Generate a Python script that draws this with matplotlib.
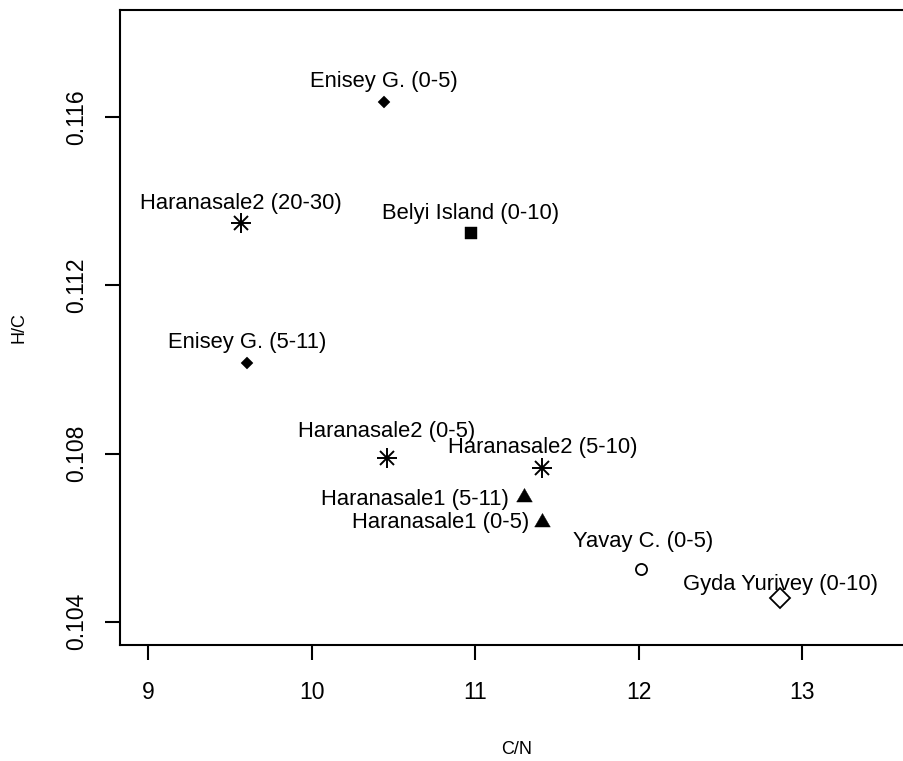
import matplotlib
matplotlib.use('Agg')
import matplotlib.pyplot as plt

plt.rcParams['font.family'] = ['Liberation Sans', 'DejaVu Sans']

# Sample data
sites = ['Enisey G. (0-5)', 'Haranasale2 (20-30)', 'Belyi Island (0-10)', 'Enisey G. (5-11)',
         'Haranasale2 (0-5)', 'Haranasale2 (5-10)', 'Haranasale1 (5-11)', 'Haranasale1 (0-5)',
         'Yavay C. (0-5)', 'Gyda Yurivey (0-10)']
cn = [10.444, 9.568, 10.973, 9.607, 10.461, 11.408, 11.298, 11.408, 12.013, 12.863]
hc = [0.11636, 0.11347, 0.11324, 0.11015, 0.10789, 0.10765, 0.10696, 0.10637, 0.10525, 0.10456]
x_ticks = [9, 10, 11, 12, 13]
y_ticks = [0.104, 0.108, 0.112, 0.116]

# marker style per site (R pch look-alikes)
equi_tri = [(-1, -0.577), (1, -0.577), (0, 1.155), (-1, -0.577)]
styles = [
    dict(marker='D', ms=6.0, mfc='black', mec='black', mew=0.3),
    'asterisk',
    dict(marker='s', ms=9.2, mfc='black', mec='black', mew=0.3),
    dict(marker='D', ms=6.0, mfc='black', mec='black', mew=0.3),
    'asterisk',
    'asterisk',
    dict(marker=equi_tri, ms=13.0, mfc='black', mec='black', mew=0.3),
    dict(marker=equi_tri, ms=13.0, mfc='black', mec='black', mew=0.3),
    dict(marker='o', ms=8.0, mfc='none', mec='black', mew=1.3),
    dict(marker='D', ms=9.8, mfc='none', mec='black', mew=1.3),
]
# label offsets in pixels (dx, dy) and horizontal alignment
label_pos = [(0, 15, 'center'), (0, 14, 'center'), (0, 14, 'center'), (0, 15, 'center'),
             (0, 21, 'center'), (1, 15, 'center'), (-15, -8, 'right'), (-13, -6, 'right'),
             (2, 22, 'center'), (0, 8, 'center')]

fig = plt.figure(figsize=(9.04, 7.61), dpi=100)
ax = fig.add_axes([0.13274, 0.15243, 0.87168, 0.83443])

for x, y, st in zip(cn, hc, styles):
    if st == 'asterisk':
        ax.plot(x, y, marker='+', ms=14, mew=1.4, color='black', ls='none')
        ax.plot(x, y, marker='x', ms=10, mew=1.4, color='black', ls='none')
    else:
        ax.plot(x, y, ls='none', **st)

for name, x, y, (dx, dy, ha) in zip(sites, cn, hc, label_pos):
    ax.annotate(name, (x, y), xytext=(dx * 0.72, dy * 0.72), textcoords='offset points',
                ha=ha, va='baseline', fontsize=15.8)

ax.set_xlim(8.829, 13.645)
ax.set_ylim(0.10345, 0.11854)
ax.set_xticks(x_ticks)
ax.set_xticklabels([str(t) for t in x_ticks])
ax.set_yticks(y_ticks)
ax.set_yticklabels(['%.3f' % t for t in y_ticks], rotation=90, va='center')

for s in ax.spines.values():
    s.set_linewidth(1.5)
ax.spines['right'].set_visible(False)  # box runs off the right edge in the original
ax.tick_params(length=11, width=1.5, labelsize=16.5, pad=12)
ax.tick_params(axis='x', pad=15)

fig.text(517 / 904, 1 - 750 / 761, 'C/N', ha='center', va='center', fontsize=13)
fig.text(19.5 / 904, 1 - 327.5 / 761, 'H/C', ha='center', va='center', fontsize=13, rotation=90)

plt.savefig('out.png', dpi=100)
